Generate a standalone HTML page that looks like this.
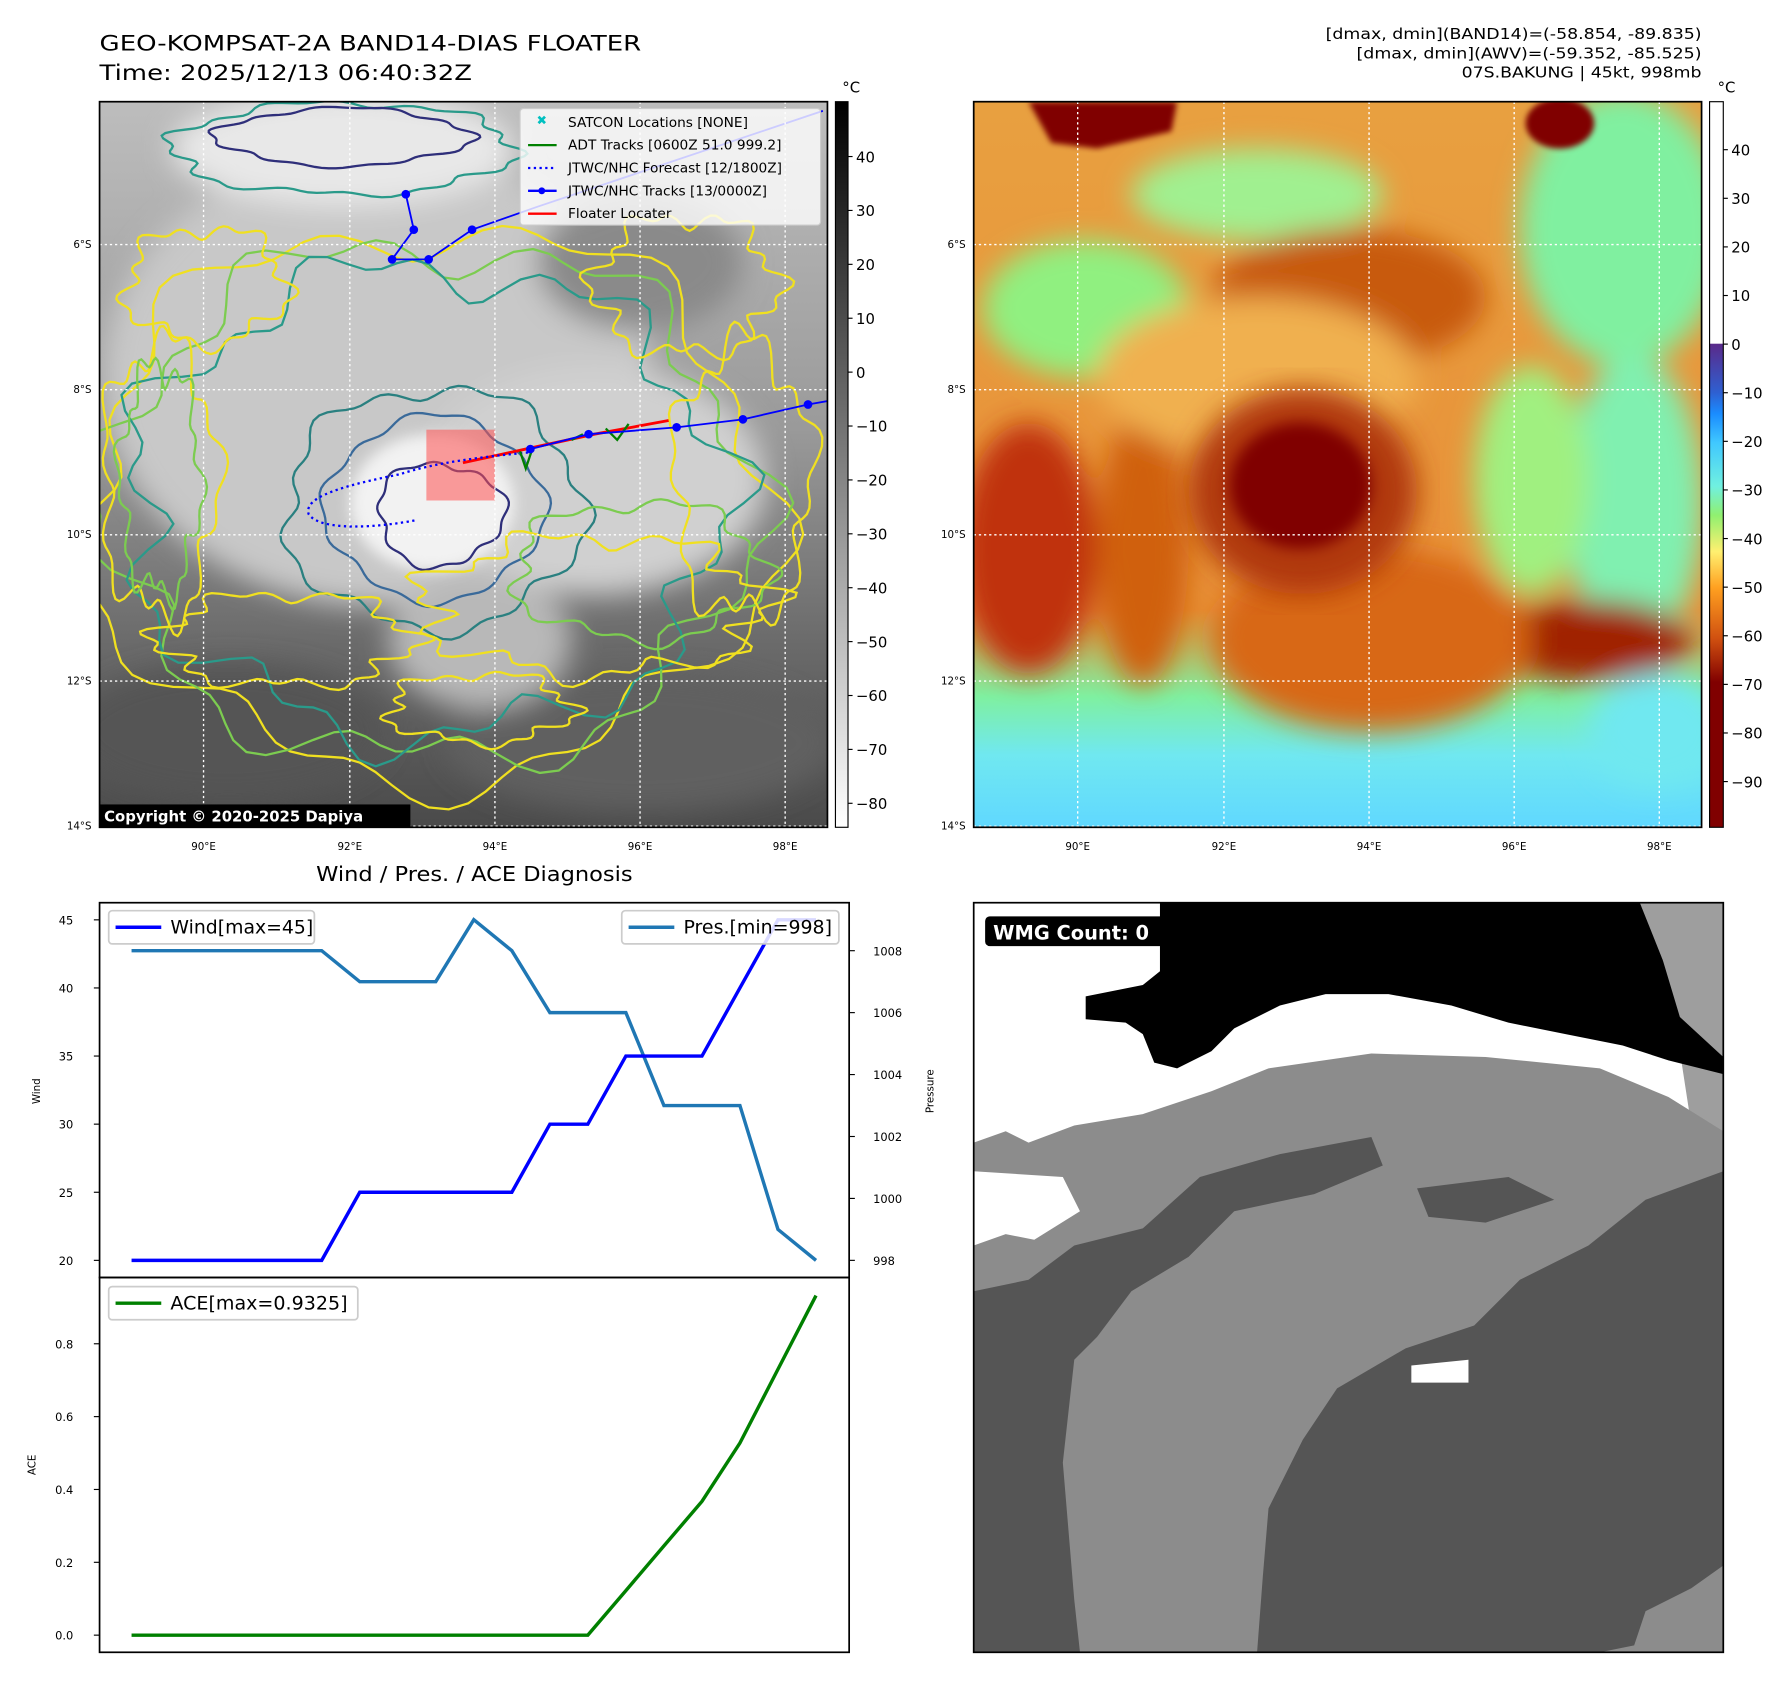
<!DOCTYPE html>
<html><head><meta charset="utf-8"><style>
html,body{margin:0;padding:0;background:#fff}
svg{display:block;font-family:"DejaVu Sans","Liberation Sans",sans-serif}
</style></head><body>
<svg id="fig" width="1792" height="1690" viewBox="0 0 1568 1479" xmlns="http://www.w3.org/2000/svg">
<defs>
<filter id="blur6"><feGaussianBlur stdDeviation="6"/></filter>
<filter id="blur12"><feGaussianBlur stdDeviation="12"/></filter>
<filter id="blur3"><feGaussianBlur stdDeviation="2.5"/></filter>
<linearGradient id="greyBg" x1="0" y1="0" x2="0" y2="1">
<stop offset="0" stop-color="#bdbdbd"/><stop offset="0.45" stop-color="#9a9a9a"/><stop offset="0.75" stop-color="#6a6a6a"/><stop offset="1" stop-color="#4a4a4a"/></linearGradient>
<linearGradient id="cbGrey" x1="0" y1="0" x2="0" y2="1"><stop offset="0" stop-color="#000"/><stop offset="1" stop-color="#fff"/></linearGradient>
<linearGradient id="cbColor" x1="0" y1="0" x2="0" y2="1">
<stop offset="0" stop-color="#fff"/><stop offset="0.333" stop-color="#fff"/><stop offset="0.334" stop-color="#5a2a8a"/>
<stop offset="0.40" stop-color="#2f5fd0"/><stop offset="0.43" stop-color="#1a8cff"/><stop offset="0.47" stop-color="#40c8ff"/>
<stop offset="0.53" stop-color="#70f0e0"/><stop offset="0.57" stop-color="#90f070"/><stop offset="0.62" stop-color="#fff070"/>
<stop offset="0.67" stop-color="#ffa020"/><stop offset="0.74" stop-color="#d05010"/><stop offset="0.80" stop-color="#800000"/><stop offset="1" stop-color="#800000"/></linearGradient>
<linearGradient id="rmBg" x1="0" y1="0" x2="0" y2="1">
<stop offset="0" stop-color="#e8a040"/><stop offset="0.7" stop-color="#e89038"/><stop offset="0.82" stop-color="#7ff0a0"/><stop offset="0.9" stop-color="#70e8f0"/><stop offset="1" stop-color="#60d8ff"/></linearGradient>
<clipPath id="clipL"><rect x="87" y="89" width="637" height="635"/></clipPath>
<clipPath id="clipR"><rect x="852" y="89" width="637" height="635"/></clipPath>
<clipPath id="clipB"><rect x="852" y="790" width="656" height="656"/></clipPath>
</defs>

<!-- Titles -->
<text x="87" y="44" font-size="19" textLength="474" lengthAdjust="spacingAndGlyphs">GEO-KOMPSAT-2A BAND14-DIAS FLOATER</text>
<text x="87" y="70" font-size="19" textLength="326" lengthAdjust="spacingAndGlyphs">Time: 2025/12/13 06:40:32Z</text>
<g font-size="13" text-anchor="end">
<text x="1489" y="34" textLength="329" lengthAdjust="spacingAndGlyphs">[dmax, dmin](BAND14)=(-58.854, -89.835)</text>
<text x="1489" y="51" textLength="302" lengthAdjust="spacingAndGlyphs">[dmax, dmin](AWV)=(-59.352, -85.525)</text>
<text x="1489" y="68" textLength="210" lengthAdjust="spacingAndGlyphs">07S.BAKUNG | 45kt, 998mb</text>
</g>

<!-- Left map -->
<g clip-path="url(#clipL)">
<rect x="87" y="89" width="637" height="635" fill="url(#greyBg)"/>
<g filter="url(#blur12)">
<ellipse cx="330" cy="330" rx="240" ry="200" fill="#c8c8c8"/>
<ellipse cx="520" cy="420" rx="150" ry="100" fill="#d0d0d0"/>
<ellipse cx="300" cy="130" rx="150" ry="50" fill="#e8e8e8"/>
<ellipse cx="560" cy="230" rx="90" ry="60" fill="#8a8a8a"/>
<ellipse cx="200" cy="640" rx="140" ry="60" fill="#555"/>
<ellipse cx="560" cy="650" rx="170" ry="60" fill="#606060"/>
<ellipse cx="420" cy="560" rx="80" ry="60" fill="#b8b8b8"/>
</g>
<ellipse cx="378" cy="440" rx="72" ry="60" fill="#f2f2f2" filter="url(#blur6)"/>
<g id="contours" fill="none" stroke-width="2"></g>
<rect x="373" y="376" width="60" height="62" fill="#ff5050" fill-opacity="0.55"/>
<path d="M405,405 L460,393 L520,380 L585,368" stroke="#ff0000" stroke-width="2.5" fill="none"/>
<path d="M462,396 C420,400 380,405 350,415 C300,425 265,435 270,450 C280,465 330,462 365,455" stroke="#0000ff" stroke-width="2" stroke-dasharray="2,3" fill="none"/>
<g stroke="#008000" stroke-width="2" fill="none">
<path d="M455,395 l5,15 l6,-18"/><path d="M530,375 l10,10 l10,-14"/><path d="M500,385 l10,-5"/>
</g>
<g stroke="#0000ff" stroke-width="1.6" fill="#0000ff">
<path d="M355,170 L362,201 L343,227 L375,227 L413,201 L470,181 L720,97" fill="none"/>
<circle cx="355" cy="170" r="3"/><circle cx="362" cy="201" r="3"/><circle cx="343" cy="227" r="3"/><circle cx="375" cy="227" r="3"/><circle cx="413" cy="201" r="3"/>
</g>
<g stroke="#0000ff" stroke-width="1.6" fill="#0000ff">
<path d="M464,393 L515,380 L592,374 L650,367 L707,354 L730,350" fill="none"/>
<circle cx="464" cy="393" r="3"/><circle cx="515" cy="380" r="3"/><circle cx="592" cy="374" r="3"/><circle cx="650" cy="367" r="3"/><circle cx="707" cy="354" r="3"/>
</g>
<g id="gridL" stroke="#fff" stroke-width="1.2" stroke-dasharray="2,2.5"></g>
</g>
<rect x="87" y="89" width="637" height="635" fill="none" stroke="#000" stroke-width="1.5"/>
<g>
<rect x="455" y="95" width="263" height="102" rx="3" fill="#fff" fill-opacity="0.8" stroke="#ccc"/>
<g font-size="12">
<text x="474" y="109" fill="#00c0c0" font-size="11" text-anchor="middle">✖</text><text x="497" y="111">SATCON Locations [NONE]</text>
<line x1="462" y1="127" x2="487" y2="127" stroke="#008000" stroke-width="2"/><text x="497" y="131">ADT Tracks [0600Z 51.0 999.2]</text>
<line x1="462" y1="147" x2="487" y2="147" stroke="#0000ff" stroke-width="2" stroke-dasharray="2,3"/><text x="497" y="151">JTWC/NHC Forecast [12/1800Z]</text>
<line x1="462" y1="167" x2="487" y2="167" stroke="#0000ff" stroke-width="2"/><circle cx="474" cy="167" r="3" fill="#0000ff"/><text x="497" y="171">JTWC/NHC Tracks [13/0000Z]</text>
<line x1="462" y1="187" x2="487" y2="187" stroke="#ff0000" stroke-width="2"/><text x="497" y="191">Floater Locater</text>
</g></g>
<rect x="87" y="704" width="272" height="20" fill="#000"/>
<text x="91" y="719" font-size="13" font-weight="bold" fill="#fff">Copyright © 2020-2025 Dapiya</text>

<!-- Left colorbar -->
<g>
<rect x="731" y="89" width="11" height="635" fill="url(#cbGrey)" stroke="#000"/>
<text x="737" y="81" font-size="13">°C</text>
<g id="cbLticks" font-size="13"></g>
</g>

<!-- Right map -->
<g clip-path="url(#clipR)">
<rect x="852" y="89" width="637" height="635" fill="url(#rmBg)"/>
<g filter="url(#blur12)">
<ellipse cx="950" cy="270" rx="90" ry="60" fill="#90f080"/>
<ellipse cx="1100" cy="170" rx="110" ry="40" fill="#a0f090"/>
<ellipse cx="1420" cy="200" rx="90" ry="120" fill="#80f0a0"/>
<ellipse cx="1430" cy="440" rx="60" ry="130" fill="#80f0b0"/>
<ellipse cx="1340" cy="420" rx="50" ry="100" fill="#a0f080"/>
<ellipse cx="900" cy="480" rx="60" ry="110" fill="#c03010"/>
<ellipse cx="1000" cy="480" rx="40" ry="120" fill="#d06010"/>
<ellipse cx="1180" cy="260" rx="120" ry="60" fill="#c85a10"/>
<ellipse cx="1390" cy="560" rx="90" ry="35" fill="#a02000"/>
<ellipse cx="1200" cy="560" rx="140" ry="80" fill="#d86818"/>
<ellipse cx="1100" cy="330" rx="140" ry="70" fill="#f0b050"/>
<ellipse cx="1450" cy="640" rx="60" ry="50" fill="#70e8f0"/>
</g>
<ellipse cx="1140" cy="430" rx="100" ry="90" fill="#b03808" filter="url(#blur12)"/>
<ellipse cx="1138" cy="425" rx="62" ry="55" fill="#800000" filter="url(#blur6)"/>
<path d="M900,89 L1030,89 L1025,115 L960,130 L920,125Z" fill="#800000" filter="url(#blur3)"/>
<ellipse cx="1365" cy="108" rx="30" ry="22" fill="#800000" filter="url(#blur3)"/>
<g id="gridR" stroke="#fff" stroke-width="1.2" stroke-dasharray="2,2.5"></g>
</g>
<rect x="852" y="89" width="637" height="635" fill="none" stroke="#000" stroke-width="1.5"/>
<g>
<rect x="1496" y="89" width="12" height="635" fill="url(#cbColor)" stroke="#000"/>
<text x="1503" y="81" font-size="13">°C</text>
<g id="cbRticks" font-size="13"></g>
</g>
<g id="mapLabels" font-size="9"></g>

<!-- Bottom right panel -->
<g clip-path="url(#clipB)">
<rect x="852" y="790" width="656" height="656" fill="#fff"/>
<polygon fill="#9e9e9e" points="1435,790 1508,790 1508,990 1480,985 1470,920 1455,840"/>
<polygon fill="#8c8c8c" points="852,1000 880,990 900,1000 940,985 1000,975 1060,955 1110,935 1200,922 1300,925 1400,935 1460,960 1508,990 1508,1446 852,1446"/>
<polygon fill="#fff" points="852,1025 930,1030 945,1060 905,1085 880,1080 852,1090"/>
<polygon fill="#555" points="852,1130 900,1120 940,1090 1000,1075 1050,1030 1120,1010 1200,995 1210,1020 1150,1045 1080,1060 1040,1100 990,1130 960,1170 940,1190 930,1280 940,1400 945,1446 852,1446"/>
<polygon fill="#555" points="1100,1446 1105,1380 1110,1320 1140,1260 1170,1215 1230,1180 1290,1160 1330,1120 1390,1090 1440,1050 1508,1025 1508,1370 1480,1390 1440,1410 1430,1440 1400,1446"/>
<polygon fill="#555" points="1240,1040 1320,1030 1360,1050 1300,1070 1250,1065"/>
<polygon fill="#fff" points="1235,1195 1285,1190 1285,1210 1235,1210"/>
<polygon fill="#000" points="1015,790 1435,790 1455,840 1470,890 1508,925 1508,940 1460,928 1420,915 1370,905 1320,895 1270,880 1215,870 1160,870 1120,880 1080,900 1060,920 1030,935 1010,930 1000,905 985,895 950,892 950,872 1000,862 1015,850"/>
</g>
<rect x="852" y="790" width="656" height="656" fill="none" stroke="#000" stroke-width="1.5"/>
<rect x="862" y="802" width="160" height="26" rx="4" fill="#000"/>
<text x="869" y="822" font-size="17" font-weight="bold" fill="#fff">WMG Count: 0</text>

<!-- Diagnosis chart -->
<text x="415" y="771" font-size="18" text-anchor="middle" textLength="277" lengthAdjust="spacingAndGlyphs">Wind / Pres. / ACE Diagnosis</text>
<g id="chart"></g>
<rect x="87" y="790" width="656" height="328" fill="none" stroke="#000" stroke-width="1.5"/>
<rect x="87" y="1118" width="656" height="328" fill="none" stroke="#000" stroke-width="1.5"/>
</svg>
<script>
// ---- chart data ----
const timeIndex = [0,1,2,3,4,5,6,7,8,9,10,11,12,13,14,15,16,17,18];
const windValues = [20,20,20,20,20,20,25,25,25,25,25,30,30,35,35,35,40,45,45];
const pressureValues = [1008,1008,1008,1008,1008,1008,1007,1007,1007,1009,1008,1006,1006,1006,1003,1003,1003,999,998];
const aceValues = [0,0,0,0,0,0,0,0,0,0,0,0,0,0.1225,0.245,0.3675,0.5275,0.73,0.9325];
const windTicks = [20,25,30,35,40,45];
const pressureTicks = [998,1000,1002,1004,1006,1008];
const aceTicks = [0.0,0.2,0.4,0.6,0.8];
const greyCbTicks = [40,30,20,10,0,-10,-20,-30,-40,-50,-60,-70,-80];
const colorCbTicks = [40,30,20,10,0,-10,-20,-30,-40,-50,-60,-70,-80,-90];
const latTicks = ['6°S','8°S','10°S','12°S','14°S'];
const lonTicks = ['90°E','92°E','94°E','96°E','98°E'];

const NS='http://www.w3.org/2000/svg';
function mk(tag, attrs, parent){const e=document.createElementNS(NS,tag);for(const k in attrs)e.setAttribute(k,attrs[k]);parent.appendChild(e);return e;}
const chart=document.getElementById('chart');
const xS=i=>115+i*(714-115)/18;
const wY=v=>1103-(v-20)*(1103-805)/25;
const pY=v=>1103-(v-998)*(1103-832)/10;
const aY=v=>1431-v*(1431-1176)/0.8;

windTicks.forEach(t=>{const y=wY(t);
 const l=mk('line',{x1:82,x2:87,y1:y,y2:y,stroke:'#000'},chart);
 
 
 const tx=mk('text',{x:64,y:y+4,'font-size':10,'text-anchor':'end'},chart);tx.textContent=t;
 
 });
pressureTicks.forEach(t=>{const y=pY(t);
 const l=mk('line',{x1:743,x2:748,y1:y,y2:y,stroke:'#000'},chart);
 
 
 const tx=mk('text',{x:764,y:y+4,'font-size':10},chart);tx.textContent=t;
 
 });
aceTicks.forEach(t=>{const y=aY(t);
 const l=mk('line',{x1:82,x2:87,y1:y,y2:y,stroke:'#000'},chart);
 
 
 const tx=mk('text',{x:64,y:y+4,'font-size':10,'text-anchor':'end'},chart);tx.textContent=t.toFixed(1);
 
 });
let t1=mk('text',{x:35,y:955,'font-size':9,'text-anchor':'middle',transform:'rotate(-90 35 955)'},chart);t1.textContent='Wind';


let t2=mk('text',{x:817,y:955,'font-size':9,'text-anchor':'middle',transform:'rotate(-90 817 955)'},chart);t2.textContent='Pressure';


let t3=mk('text',{x:31,y:1282,'font-size':9,'text-anchor':'middle',transform:'rotate(-90 31 1282)'},chart);t3.textContent='ACE';



const pts=(vals,f)=>timeIndex.map(i=>xS(i).toFixed(1)+','+f(vals[i]).toFixed(1)).join(' ');
let pl=mk('polyline',{points:pts(pressureValues,pY),fill:'none',stroke:'#1f77b4','stroke-width':3},chart);


let wl=mk('polyline',{points:pts(windValues,wY),fill:'none',stroke:'#0000ff','stroke-width':3},chart);


let al=mk('polyline',{points:pts(aceValues,aY),fill:'none',stroke:'#008000','stroke-width':3},chart);



function legend(x,y,w,color,label,name,tl){
 const g=mk('g',{},chart);
 
 
 mk('rect',{x:x,y:y,width:w,height:29,rx:3,fill:'#fff','fill-opacity':0.85,stroke:'#ccc','stroke-width':1.5},g);
 mk('line',{x1:x+6,x2:x+46,y1:y+14.5,y2:y+14.5,stroke:color,'stroke-width':3},g);
 mk('text',{x:x+54,y:y+20,'font-size':16,textLength:tl,lengthAdjust:'spacingAndGlyphs'},g).textContent=label;}
legend(95,797,180,'#0000ff','Wind[max=45]','wind-legend',125);
legend(544,797,190,'#1f77b4','Pres.[min=998]','pressure-legend',130);
legend(95,1126,218,'#008000','ACE[max=0.9325]','ace-legend',155);

const cbL=document.getElementById('cbLticks');
greyCbTicks.forEach(t=>{const y=137+(40-t)*(703-137)/120;
 mk('line',{x1:742,x2:746,y1:y,y2:y,stroke:'#000'},cbL);
 const tx=mk('text',{x:749,y:y+5},cbL);tx.textContent=(t<0?'\u2212'+(-t):t);});
const cbR=document.getElementById('cbRticks');
colorCbTicks.forEach(t=>{const y=131+(40-t)*(684-131)/130;
 mk('line',{x1:1508,x2:1512,y1:y,y2:y,stroke:'#000'},cbR);
 const tx=mk('text',{x:1515,y:y+5},cbR);tx.textContent=(t<0?'\u2212'+(-t):t);});

const latY=[214,341,468,596,723], lonX=[178,306,433,560,687];
const ml=document.getElementById('mapLabels');
[[0,'gridL'],[765,'gridR']].forEach(([off,id])=>{
 const g=document.getElementById(id);
 latY.forEach((y,i)=>{mk('line',{x1:87+off,x2:724+off,y1:y,y2:y},g);
  const t=mk('text',{x:80+off,y:y+3,'text-anchor':'end'},ml);t.textContent=latTicks[i];});
 lonX.forEach((x,i)=>{mk('line',{x1:x+off,x2:x+off,y1:89,y2:724},g);
  const t=mk('text',{x:x+off,y:744,'text-anchor':'middle'},ml);t.textContent=lonTicks[i];});
});

const cg=document.getElementById('contours');
function blob(cx,cy,rx,ry,amp,k,ph,color,w){
 let d='';for(let j=0;j<=120;j++){const a=j/120*Math.PI*2;
  const r=1+amp*(Math.sin(k*a+ph)*0.6+Math.sin((k*2+3)*a+ph*1.7)*0.4);
  const x=cx+rx*r*Math.cos(a),y=cy+ry*r*Math.sin(a);d+=(j?'L':'M')+x.toFixed(1)+','+y.toFixed(1);}
 mk('path',{d:d+'Z',stroke:color,'stroke-width':w||2},cg);}
blob(375,440,300,240,0.12,5,0.3,'#f0e020');
blob(375,440,285,225,0.13,6,1.1,'#7ccc50');
blob(375,440,260,205,0.14,7,2.0,'#2a9a8a');
blob(380,445,130,105,0.10,5,0.7,'#2a8080');
blob(380,445,95,80,0.08,4,1.5,'#3a6a9a');
blob(385,450,55,45,0.12,3,2.2,'#2f2f7a');
blob(180,250,70,50,0.2,5,0.4,'#f0e020');
blob(600,250,80,60,0.2,6,1.4,'#f0e020');
blob(560,500,110,60,0.15,5,0.9,'#7ccc50');
blob(520,530,150,60,0.2,7,2.4,'#f0e020');
blob(300,130,150,40,0.1,6,0.2,'#2a9a8a');
blob(300,120,110,25,0.1,4,1.2,'#2f2f7a');
blob(140,420,50,120,0.2,5,1.9,'#f0e020');
blob(140,420,35,100,0.2,6,0.6,'#7ccc50');
blob(650,420,60,120,0.2,5,2.9,'#f0e020');
blob(250,560,110,40,0.2,6,1.3,'#f0e020');
blob(420,620,80,30,0.2,5,0.8,'#f0e020');
</script>
</body></html>
